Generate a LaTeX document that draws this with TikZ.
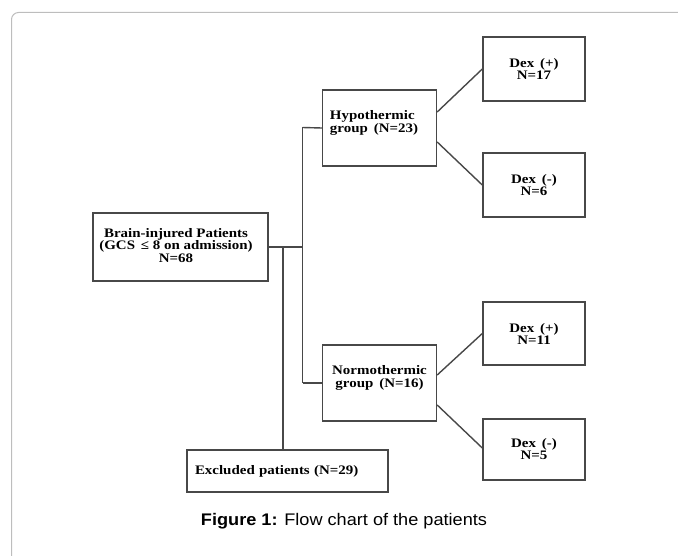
\documentclass[tikz,border=0pt]{standalone}
\usepackage{fontspec}
\setmainfont{Liberation Serif}
\newfontfamily\boxfont[FakeStretch=1.15]{Liberation Serif}
\newfontfamily\capfont[FakeStretch=1.08]{Liberation Sans}
\begin{document}
\begin{tikzpicture}[x=1pt,y=-1pt,
  box/.style={draw=boxgray, line width=1.4pt, fill=white, inner sep=0pt, align=center,
    font=\boxfont\bfseries\fontsize{13}{12}\selectfont},
  txt/.style={font=\boxfont\bfseries\fontsize{13}{12.5}\selectfont, inner sep=0pt},
  conn/.style={draw=boxgray, line width=1.4pt}]
\definecolor{boxgray}{HTML}{484848}
\definecolor{framegray}{HTML}{BDBDBD}
\useasboundingbox (0,0) rectangle (678,556);
\draw[framegray, line width=1pt, rounded corners=7pt] (11.5,600) -- (11.5,12.5) -- (700,12.5);
% nodes
\node[box, minimum width=175pt, minimum height=68pt] (brain) at (180.5,247) {};
\node[txt, align=center] (braintxt) at (176,245.5) {Brain-injured Patients\\(GCS \,≤ 8 on admission)\\N=68};
\node[box, minimum width=114pt, minimum height=76pt] (hypo) at (379.5,128) {};
\node[txt, align=left] (hypotxt) at (374,123) {Hypothermic\\group \,(N=23)};
\node[box, minimum width=114pt, minimum height=76pt] (normo) at (379.5,383) {};
\node[txt, align=center] (normotxt) at (379.5,378) {Normothermic\\group \,(N=16)};
\node[box, minimum width=102pt, minimum height=64pt] (d1) at (534,69) {Dex \,(+)\\N=17};
\node[box, minimum width=102pt, minimum height=64pt] (d2) at (534,185) {Dex \,(-)\\N=6};
\node[box, minimum width=102pt, minimum height=63pt] (d3) at (534,333.5) {Dex \,(+)\\N=11};
\node[box, minimum width=102pt, minimum height=61pt] (d4) at (534,449.5) {Dex \,(-)\\N=5};
\node[box, minimum width=201pt, minimum height=42pt, align=left, text width=185pt] (excl) at (287.5,471) {Excluded patients (N=29)};
% junctions
\coordinate (j1) at (302.5,247);
\coordinate (jt) at (302.5,127.5);
\coordinate (jb) at (302.5,383);
\coordinate (j2) at (283,247);
\draw[conn] (brain.east) -- (j1);
\draw[conn] (jt) -- (jb);
\draw[conn] (jt) -- (hypo.west);
\draw[conn] (jb) -- (normo.west);
\draw[conn] (j2) -- (j2 |- excl.north);
\draw[conn] ([yshift=16pt]hypo.east) -- (d1.west);
\draw[conn] ([yshift=-14pt]hypo.east) -- (d2.west);
\draw[conn] ([yshift=8pt]normo.east) -- (d3.west);
\draw[conn] ([yshift=-22pt]normo.east) -- ([yshift=1.5pt]d4.west);
% caption
\node[font=\capfont\fontsize{16.8}{20}\selectfont, anchor=base] (cap) at (344,525) {\textbf{Figure 1:} Flow chart of the patients};
\end{tikzpicture}
\end{document}
